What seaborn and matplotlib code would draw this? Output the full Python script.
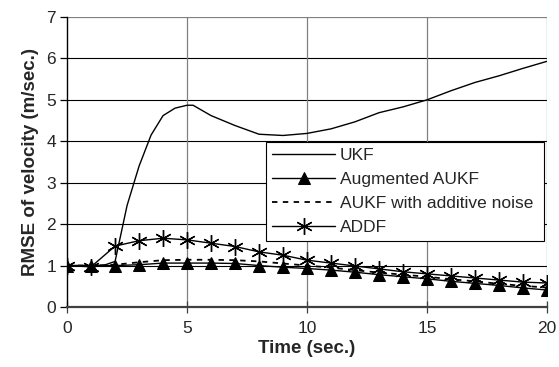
import numpy as np
import pandas as pd
import matplotlib
matplotlib.use("Agg")
import matplotlib.pyplot as plt
import seaborn as sns

# Data
t = list(range(0, 21))

ukf_t = [0, 1, 1.5, 2, 2.5, 3, 3.5, 4, 4.5, 5, 5.25, 6, 7, 8, 9, 10,
         11, 12, 13, 14, 15, 16, 17, 18, 19, 20]
ukf = [1.0, 1.0, 1.0, 1.1, 2.45, 3.4, 4.15, 4.62, 4.8, 4.87, 4.87, 4.62,
       4.38, 4.17, 4.14, 4.19, 4.3, 4.47, 4.69, 4.83, 5.0, 5.22, 5.42,
       5.58, 5.76, 5.93]

aug_aukf = [1.0, 1.0, 1.0, 1.02, 1.06, 1.06, 1.06, 1.05, 1.0, 0.96, 0.93,
            0.89, 0.84, 0.78, 0.73, 0.68, 0.62, 0.57, 0.52, 0.46, 0.41]

aukf_add = [1.0, 1.0, 1.02, 1.08, 1.13, 1.14, 1.14, 1.13, 1.1, 1.05, 1.0,
            0.95, 0.89, 0.83, 0.78, 0.73, 0.67, 0.62, 0.56, 0.51, 0.47]

addf = [1.0, 0.97, 1.47, 1.6, 1.66, 1.62, 1.54, 1.46, 1.33, 1.25, 1.13,
        1.06, 0.99, 0.92, 0.85, 0.8, 0.75, 0.7, 0.65, 0.6, 0.58]

sns.set_theme(style="white")
plt.rcParams['font.family'] = ['Liberation Sans', 'DejaVu Sans']

fig = plt.figure(figsize=(5.59, 3.67), dpi=100)
ax = fig.add_axes([0.12, 0.1635, 0.8585, 0.7902])

lw = 1.0
sns.lineplot(x=ukf_t, y=ukf, ax=ax, color='black', linewidth=lw, label='UKF')
sns.lineplot(x=t, y=aug_aukf, ax=ax, color='black', linewidth=lw, marker='^',
             markersize=8, markeredgecolor='black', markerfacecolor='black',
             label='Augmented AUKF')
sns.lineplot(x=t, y=aukf_add, ax=ax, color='black', linewidth=1.3,
             linestyle=(0, (3, 3)), label='AUKF with additive noise')
sns.lineplot(x=t, y=addf, ax=ax, color='black', linewidth=lw,
             marker=(6, 2, 0), markersize=12, markeredgewidth=1.0,
             markeredgecolor='black', label='ADDF')

ax.set_xlim(0, 20)
ax.set_ylim(0, 7)
ax.set_xticks([0, 5, 10, 15, 20])
ax.set_yticks(range(0, 8))

# grid: black horizontals, grey verticals and top edge
for y in range(1, 7):
    ax.axhline(y, color='black', linewidth=0.8, zorder=0)
ax.axhline(7, color='#808080', linewidth=0.9, zorder=0)
for x in [5, 10, 15, 20]:
    ax.axvline(x, color='#808080', linewidth=0.9, zorder=0)

for side in ['top', 'right']:
    ax.spines[side].set_visible(False)
ax.spines['left'].set_color('black')
ax.spines['left'].set_linewidth(1.0)
ax.spines['bottom'].set_color('#404040')
ax.spines['bottom'].set_linewidth(1.6)

ax.tick_params(axis='y', direction='out', length=5, width=0.9, color='black',
               labelsize=12.5, pad=3, left=True)
ax.tick_params(axis='x', direction='inout', length=8, width=0.9, color='#404040',
               labelsize=12.5, pad=6, bottom=True)

ax.set_xlabel('Time (sec.)', fontsize=13.5, fontweight='bold', labelpad=3)
ax.set_ylabel('RMSE of velocity (m/sec.)', fontsize=13.5, fontweight='bold', labelpad=5)

leg = ax.legend(loc='upper left', bbox_to_anchor=(0.415, 0.231, 0.579, 0.338),
                mode='expand', fontsize=12.5, frameon=True, fancybox=False,
                handlelength=3.6, handletextpad=0.3, borderaxespad=0,
                labelspacing=0.5, borderpad=0.35)
leg.get_frame().set_edgecolor('black')
leg.get_frame().set_linewidth(0.8)
leg.get_frame().set_facecolor('white')
leg.get_frame().set_alpha(1)

fig.savefig('out.png', dpi=100)
